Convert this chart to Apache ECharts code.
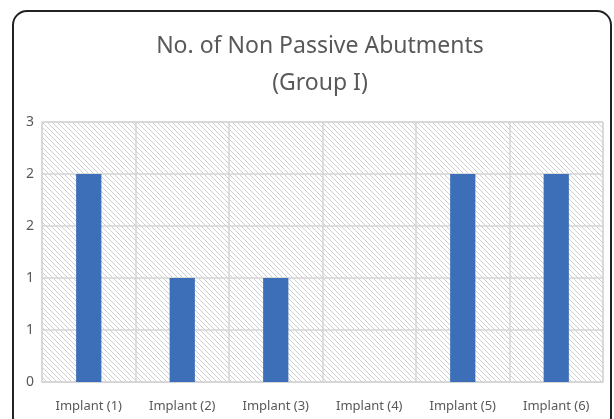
<!DOCTYPE html>
<html><head><meta charset="utf-8">
<script src="https://cdn.jsdelivr.net/npm/echarts@6/dist/echarts.min.js"></script>
<style>html,body{margin:0;padding:0;background:#fff}#c{width:614px;height:419px}</style>
</head><body><div id="c"></div>
<script>
var categories = ['Implant (1)', 'Implant (2)', 'Implant (3)', 'Implant (4)', 'Implant (5)', 'Implant (6)'];
var values = [2, 1, 1, 0, 2, 2];
var yTickValues = [0, 0.5, 1, 1.5, 2, 2.5];
var yTickLabels = ['0', '1', '1', '2', '2', '3'];
var titleText = 'No. of Non Passive Abutments\n(Group I)';

function makePattern() {
  var s = 5;
  var cv = document.createElement('canvas');
  cv.width = s; cv.height = s;
  var ctx = cv.getContext('2d');
  ctx.fillStyle = '#ffffff';
  ctx.fillRect(0, 0, s, s);
  ctx.strokeStyle = '#cfcfcf';
  ctx.lineWidth = 1;
  for (var i = -1; i <= 1; i++) {
    ctx.beginPath();
    ctx.moveTo(i * s - 1, -1);
    ctx.lineTo(i * s + s + 1, s + 1);
    ctx.stroke();
  }
  return cv;
}

var chart = echarts.init(document.getElementById('c'), null, {renderer: 'canvas'});
chart.setOption({
  animation: false,
  title: {
    text: titleText,
    left: 315,
    textAlign: 'center',
    top: 23,
    textStyle: {fontFamily: 'Noto Sans', fontSize: 23, fontWeight: 'normal', color: '#595959', lineHeight: 37}
  },
  graphic: [{
    type: 'rect',
    shape: {x: 13, y: 11, width: 598, height: 420, r: 14},
    style: {fill: 'none', stroke: '#222', lineWidth: 2},
    z: 100
  }],
  grid: {
    left: 42, right: 11, top: 122, bottom: 37,
    show: true,
    backgroundColor: {image: makePattern(), repeat: 'repeat'},
    borderColor: '#d4d4d4', borderWidth: 1
  },
  xAxis: {
    type: 'category',
    data: categories,
    axisLine: {show: true, lineStyle: {color: '#d4d4d4', width: 1}},
    axisTick: {show: false},
    splitLine: {show: true, lineStyle: {color: '#d4d4d4', width: 1.5}},
    axisLabel: {color: '#595959', fontSize: 13, fontFamily: 'Noto Sans', margin: 18, interval: 0}
  },
  yAxis: {
    type: 'value',
    min: 0, max: 2.5, interval: 0.5,
    axisLine: {show: false},
    axisTick: {show: false},
    splitLine: {show: true, lineStyle: {color: '#d4d4d4', width: 1.5}},
    axisLabel: {
      color: '#595959', fontSize: 14, fontFamily: 'Noto Sans', margin: 8,
      formatter: function (v) {
        for (var i = 0; i < yTickValues.length; i++) {
          if (Math.abs(yTickValues[i] - v) < 1e-9) return yTickLabels[i];
        }
        return '';
      }
    }
  },
  series: [{
    type: 'bar',
    data: values,
    barWidth: '27%',
    itemStyle: {color: '#3d6fb8'}
  }]
});
</script></body></html>
